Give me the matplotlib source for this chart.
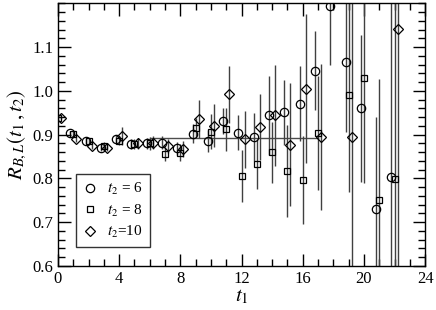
import numpy as np
import matplotlib.pyplot as plt

plt.rcParams['font.family'] = ['Liberation Serif', 'DejaVu Serif']
plt.rcParams['mathtext.fontset'] = 'stix'

# t2 = 6 (circles)
t_c = np.array([1, 2, 3, 4, 5, 6, 7, 8, 9, 10, 11, 12, 13, 14, 15, 16, 17, 18, 19, 20, 21, 22])
r_c = np.array([0.903, 0.886, 0.870, 0.890, 0.879, 0.880, 0.882, 0.869, 0.902, 0.886, 0.931,
                0.904, 0.895, 0.944, 0.951, 0.971, 1.046, 1.194, 1.066, 0.960, 0.730, 0.804])
e_c = np.array([0.006, 0.007, 0.008, 0.010, 0.012, 0.012, 0.015, 0.015, 0.022, 0.025, 0.030,
                0.040, 0.055, 0.090, 0.075, 0.085, 0.090, 0.135, 0.160, 0.167, 0.210, 0.500])

# t2 = 8 (squares)
t_s = np.array([0, 1, 2, 3, 4, 5, 6, 7, 8, 9, 10, 11, 12, 13, 14, 15, 16, 17, 19, 20, 21, 22])
r_s = np.array([0.938, 0.902, 0.885, 0.875, 0.886, 0.879, 0.880, 0.856, 0.859, 0.916, 0.907,
                0.912, 0.806, 0.834, 0.860, 0.817, 0.796, 0.904, 0.990, 1.030, 0.751, 0.798])
e_s = np.array([0.004, 0.006, 0.007, 0.008, 0.010, 0.012, 0.014, 0.016, 0.020, 0.022, 0.040,
                0.050, 0.060, 0.057, 0.070, 0.105, 0.100, 0.130, 0.220, 0.240, 0.276, 0.500])

# t2 = 10 (diamonds)
t_d = np.array([0, 1, 2, 3, 4, 5, 6, 7, 8, 9, 10, 11, 12, 13, 14, 15, 16, 17, 19, 22])
r_d = np.array([0.939, 0.890, 0.874, 0.870, 0.897, 0.880, 0.882, 0.874, 0.867, 0.936, 0.921,
                0.992, 0.890, 0.918, 0.944, 0.877, 1.005, 0.894, 0.894, 1.142])
e_d = np.array([0.004, 0.006, 0.007, 0.008, 0.020, 0.012, 0.014, 0.016, 0.018, 0.044, 0.050,
                0.066, 0.065, 0.075, 0.115, 0.140, 0.170, 0.167, 0.350, 0.550])

# plateau fit
fit_range = [6, 17]
fit_value = 0.892

fig = plt.figure(figsize=(4.36, 3.10), dpi=100)
ax = fig.add_axes([0.133, 0.142, 0.842, 0.847])

series = [
    (t_c - 0.2, r_c, e_c, 'o', 6.0, '$t_2$ = 6'),
    (t_s, r_s, e_s, 's', 5.0, '$t_2$ = 8'),
    (t_d + 0.2, r_d, e_d, 'D', 4.6, '$t_2$=10'),
]
handles = []
for x, y, e, m, ms, lab in series:
    ax.errorbar(x, y, yerr=e, fmt='none', ecolor='0.25', elinewidth=1.0, capsize=0, zorder=2)
    h, = ax.plot(x, y, ls='none', marker=m, ms=ms, mfc='none', mec='black', mew=0.9,
                 label=lab, zorder=3)
    handles.append(h)

ax.plot(fit_range, [fit_value, fit_value], color='0.3', lw=1.0, zorder=1)

ax.set_xlim(0, 24)
ax.set_ylim(0.6, 1.2)
ax.set_xticks(np.arange(0, 25, 4))
ax.set_xticks(np.arange(0, 25, 1), minor=True)
ax.set_yticks([0.6, 0.7, 0.8, 0.9, 1.0, 1.1])
ax.set_yticks(np.arange(0.6, 1.201, 0.02), minor=True)
ax.set_yticklabels(['0.6', '0.7', '0.8', '0.9', '1.0', '1.1'])
ax.tick_params(which='both', direction='in', top=True, right=True, labelsize=12, width=1.0)
ax.tick_params(which='major', length=9)
ax.tick_params(which='minor', length=5)
for sp in ax.spines.values():
    sp.set_linewidth(1.0)

ax.set_xlabel('$t_1$', fontsize=15, labelpad=0)
ax.set_ylabel('$R_{B,L}(t_1\\,,t_2)$', fontsize=15, labelpad=2)

leg = ax.legend(handles=handles, loc='lower left', bbox_to_anchor=(0.049, 0.072),
                borderaxespad=0, fontsize=11, frameon=True, fancybox=False, edgecolor='black',
                handlelength=1.0, handletextpad=0.6, borderpad=0.45, labelspacing=0.35)
leg.get_frame().set_linewidth(1.0)

fig.savefig('out.png', dpi=100)
